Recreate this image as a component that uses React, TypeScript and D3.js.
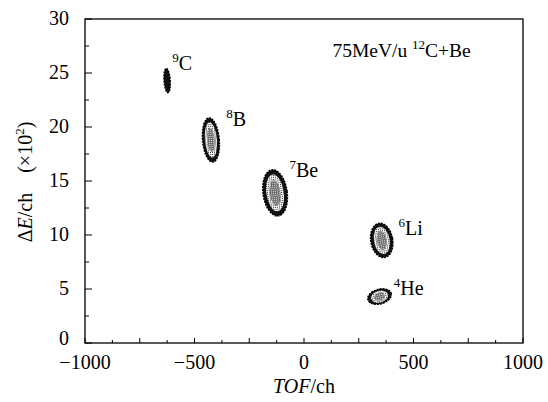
import React, { useEffect, useRef } from "react";
import * as d3 from "d3";

// isotopes seen in the ΔE–TOF plot
const massNumbers = [9, 8, 7, 6, 4];
const elements = ["C", "B", "Be", "Li", "He"];
const tofCenters = [-625, -425, -132, 355, 345];
const deCenters = [24.3, 18.8, 13.9, 9.5, 4.3];
const tofHalfWidths = [14, 38, 55, 50, 55];
const deHalfHeights = [1.12, 2.05, 2.15, 1.6, 0.68];
const tilts = [-4, -5, -8, -10, -15];
const labelTof = [-602, -355, -66, 432, 410];
const labelDe = [25.3, 20.1, 15.4, 10.0, 4.45];

const xTicks = [-1000, -500, 0, 500, 1000];
const yTicks = [0, 5, 10, 15, 20, 25, 30];

const W = 548;
const H = 402;
const margin = { top: 19, right: 25, bottom: 59, left: 85 };
const serif = "Liberation Serif, Times New Roman, serif";

export default function App() {
  const svgRef = useRef<SVGSVGElement>(null);

  useEffect(() => {
    const svg = d3.select(svgRef.current);
    svg.selectAll("*").remove();

    const innerW = W - margin.left - margin.right;
    const innerH = H - margin.top - margin.bottom;

    const x = d3.scaleLinear().domain([-1000, 1000]).range([0, innerW]);
    const y = d3.scaleLinear().domain([0, 30]).range([innerH, 0]);

    const defs = svg.append("defs");
    const dots = defs.append("pattern")
      .attr("id", "dots")
      .attr("width", 2).attr("height", 2)
      .attr("patternUnits", "userSpaceOnUse");
    dots.append("rect").attr("width", 2).attr("height", 2).attr("fill", "#fff");
    dots.append("rect").attr("width", 1).attr("height", 1).attr("fill", "#222");
    const dense = defs.append("pattern")
      .attr("id", "dense")
      .attr("width", 2).attr("height", 2)
      .attr("patternUnits", "userSpaceOnUse");
    dense.append("rect").attr("width", 2).attr("height", 2).attr("fill", "#666");
    dense.append("rect").attr("width", 1).attr("height", 1).attr("fill", "#eee");

    const g = svg.append("g")
      .attr("transform", `translate(${margin.left},${margin.top})`);

    // frame
    g.append("rect")
      .attr("width", innerW).attr("height", innerH)
      .attr("fill", "none").attr("stroke", "#000").attr("stroke-width", 1.3);

    // x ticks (inside)
    const xMinor = d3.range(-1000, 1001, 125);
    g.append("g").selectAll("line").data(xMinor).join("line")
      .attr("x1", (d) => x(d)).attr("x2", (d) => x(d))
      .attr("y1", innerH)
      .attr("y2", (d) => innerH - (d % 250 === 0 ? 5 : 3))
      .attr("stroke", "#000");
    g.append("g").selectAll("text").data(xTicks).join("text")
      .attr("x", (d) => x(d)).attr("y", innerH + 26)
      .attr("text-anchor", "middle")
      .attr("font-family", serif).attr("font-size", 20)
      .text((d) => (d < 0 ? "\u2212" + Math.abs(d) : String(d)));

    // y ticks (inside)
    const yMinor = d3.range(0, 30.01, 2.5);
    g.append("g").selectAll("line").data(yMinor).join("line")
      .attr("x1", 0)
      .attr("x2", (d) => (d % 5 === 0 ? 7 : 4))
      .attr("y1", (d) => y(d)).attr("y2", (d) => y(d))
      .attr("stroke", "#000");
    g.append("g").selectAll("text").data(yTicks).join("text")
      .attr("x", -16).attr("y", (d) => y(d) + (d === 0 ? 2 : 6))
      .attr("text-anchor", "end")
      .attr("font-family", serif).attr("font-size", 20)
      .text((d) => String(d));

    // blobs
    const blobs = g.append("g").selectAll("g").data(massNumbers).join("g")
      .attr("transform", (_, i) =>
        `translate(${x(tofCenters[i])},${y(deCenters[i])}) rotate(${tilts[i]})`);
    blobs.each(function (_, i) {
      const b = d3.select(this);
      const rx = x(tofHalfWidths[i]) - x(0);
      const ry = y(0) - y(deHalfHeights[i]);
      b.append("ellipse").attr("rx", rx).attr("ry", ry)
        .attr("fill", "#111").attr("stroke", "#000").attr("stroke-width", 1.5)
        .attr("stroke-dasharray", "2 1");
      if (i === 0) return;
      b.append("ellipse").attr("rx", rx * 0.72).attr("ry", ry * 0.8)
        .attr("fill", "url(#dots)");
      b.append("ellipse").attr("rx", rx * 0.45).attr("ry", ry * 0.55)
        .attr("fill", "url(#dense)");
    });

    // isotope labels
    const lbl = g.append("g").selectAll("text").data(massNumbers).join("text")
      .attr("x", (_, i) => x(labelTof[i]))
      .attr("y", (_, i) => y(labelDe[i]))
      .attr("font-family", serif).attr("font-size", 20);
    lbl.append("tspan").attr("font-size", 13).attr("dy", -8).text((d) => String(d));
    lbl.append("tspan").attr("dy", 8).text((_, i) => elements[i]);

    // reaction annotation
    const ann = g.append("text")
      .attr("x", x(130)).attr("y", 38)
      .attr("font-family", serif).attr("font-size", 19.5);
    ann.append("tspan").text("75MeV/u ");
    ann.append("tspan").attr("font-size", 13).attr("dy", -8).text("12");
    ann.append("tspan").attr("dy", 8).text("C+Be");

    // axis titles
    const xt = svg.append("text")
      .attr("x", margin.left + innerW / 2).attr("y", 393)
      .attr("text-anchor", "middle")
      .attr("font-family", serif).attr("font-size", 20);
    xt.append("tspan").attr("font-style", "italic").text("TOF");
    xt.append("tspan").text("/ch");

    const yt = svg.append("text")
      .attr("transform", `translate(32,182) rotate(-90)`)
      .attr("text-anchor", "middle")
      .attr("font-family", serif).attr("font-size", 20);
    yt.append("tspan").text("\u0394");
    yt.append("tspan").attr("font-style", "italic").text("E");
    yt.append("tspan").text("/ch\u2003(\u00d710");
    yt.append("tspan").attr("font-size", 13).attr("dy", -8).text("2");
    yt.append("tspan").attr("dy", 8).text(")");
  }, []);

  return (
    <div style={{ position: "absolute", left: 0, top: 0 }}>
      <svg ref={svgRef} width={W} height={H} style={{ display: "block", background: "#fff" }} />
    </div>
  );
}
